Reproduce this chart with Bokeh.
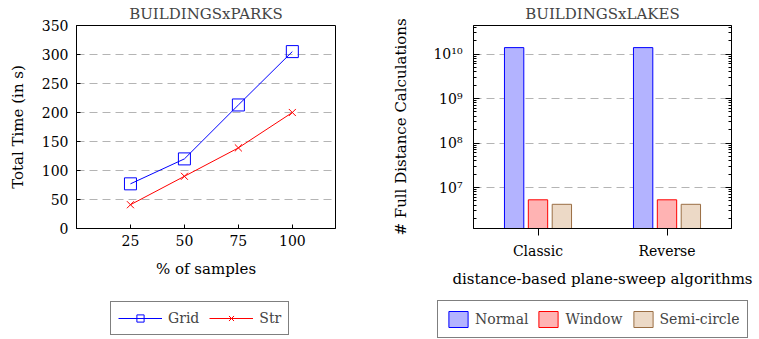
from bokeh.plotting import figure
from bokeh.layouts import row, column
from bokeh.models import (Range1d, FactorRange, FixedTicker, Legend, LegendItem,
                          LogAxis, CustomJSTickFormatter, ColumnDataSource)
from bokeh.transform import dodge
from bokeh.embed import file_html
from bokeh.resources import INLINE

FONT = "DejaVu Serif"

# ---- left chart data: BUILDINGSxPARKS ----
samples = [25, 50, 75, 100]
grid_time = [77, 120, 213, 305]
str_time = [41, 90, 139, 200]
x_tick_values = [25, 50, 75, 100]
y_tick_values = [0, 50, 100, 150, 200, 250, 300, 350]

# ---- right chart data: BUILDINGSxLAKES ----
algorithms = ["Classic", "Reverse"]
normal_calc = [1.4e10, 1.4e10]
window_calc = [5.3e6, 5.3e6]
semicircle_calc = [4.2e6, 4.2e6]
log_major_ticks = [1e7, 1e8, 1e9, 1e10]
LOG_FLOOR = 1.2e6
LOG_CEIL = 4.4e10

BLUE, BLUE_FILL = "#0000ff", "#b3b3ff"
RED, RED_FILL = "#ff0000", "#ffb3b3"
BROWN, BROWN_FILL = "#9a6e44", "#ecd9c6"
GRID_COLOR, GRID_DASH = "#b4b4b4", "8 5"


def style_axes(p):
    for ax in p.axis:
        ax.major_label_text_font = FONT
        ax.major_label_text_font_size = "14px"
        ax.major_label_text_color = "black"
        ax.axis_label_text_font = FONT
        ax.axis_label_text_font_size = "15px"
        ax.axis_label_text_font_style = "normal"
        ax.axis_label_text_color = "black"
        ax.axis_line_color = "black"
        ax.major_tick_line_color = "black"
        ax.minor_tick_line_color = "black"
    p.title.text_font = FONT
    p.title.text_font_size = "15px"
    p.title.text_font_style = "normal"
    p.title.align = "center"
    p.title.standoff = 5
    p.outline_line_color = "black"
    p.outline_line_alpha = 1.0
    p.background_fill_color = "white"
    p.border_fill_color = "white"


def legend_canvas(width):
    # a blank strip below each chart that only holds its legend;
    # its view range (0..1) lies outside all data, so its glyphs are not seen
    q = figure(width=width, height=49, x_range=Range1d(0, 1), y_range=Range1d(0, 1),
               output_backend="svg", toolbar_location=None, min_border=0)
    q.axis.visible = False
    q.grid.visible = False
    q.outline_line_color = None
    q.border_fill_color = "white"
    q.background_fill_color = "white"
    return q


# ================= left figure =================
p1 = figure(width=380, height=290, x_range=Range1d(0, 120), y_range=Range1d(0, 350),
            title="BUILDINGSxPARKS", output_backend="svg", toolbar_location=None,
            min_border_left=76, min_border_right=45, min_border_top=22, min_border_bottom=62)
style_axes(p1)
p1.xaxis.ticker = FixedTicker(ticks=x_tick_values)
p1.yaxis.ticker = FixedTicker(ticks=y_tick_values)
p1.xaxis.axis_label = "% of samples"
p1.yaxis.axis_label = "Total Time (in s)"
for ax in p1.axis:
    ax.major_tick_in = 4
    ax.major_tick_out = 0
    ax.minor_tick_in = 0
    ax.minor_tick_out = 0
p1.xaxis.major_label_standoff = 6
p1.xaxis.axis_label_standoff = 11
p1.yaxis.major_label_standoff = 8
p1.yaxis.axis_label_standoff = 12
p1.xgrid.visible = False
p1.ygrid.grid_line_color = GRID_COLOR
p1.ygrid.grid_line_dash = GRID_DASH


def draw_series(p):
    a = p.line(samples, grid_time, line_color=BLUE, line_width=1)
    b = p.scatter(samples, grid_time, marker="square", size=12,
                  fill_color=None, line_color=BLUE, line_width=1)
    c = p.line(samples, str_time, line_color=RED, line_width=1)
    d = p.scatter(samples, str_time, marker="x", size=10, line_color=RED, line_width=1)
    return a, b, c, d


draw_series(p1)

# legend for left chart (own canvas below the chart)
l1 = legend_canvas(380)
lg_line, lg_mark, ls_line, ls_mark = draw_series(l1)
leg1 = Legend(items=[LegendItem(label="Grid", renderers=[lg_line, lg_mark]),
                     LegendItem(label="Str", renderers=[ls_line, ls_mark])],
              location=(110, 4), orientation="horizontal",
              glyph_width=44, glyph_height=18, spacing=10, padding=7, label_standoff=6,
              border_line_color="black", border_line_width=1,
              label_text_font=FONT, label_text_font_size="14px",
              background_fill_alpha=1.0)
l1.add_layout(leg1)

# ================= right figure =================
p2 = figure(width=379, height=290, x_range=FactorRange(*algorithms),
            y_axis_type="log", y_range=Range1d(LOG_FLOOR, LOG_CEIL),
            title="BUILDINGSxLAKES", output_backend="svg", toolbar_location=None,
            min_border_left=93, min_border_right=28, min_border_top=22, min_border_bottom=62)

log_minor = [m * 10.0 ** e for e in range(6, 11) for m in range(2, 10)]
log_ticker = FixedTicker(ticks=log_major_ticks, minor_ticks=log_minor)
sup_formatter = CustomJSTickFormatter(code=r"""
const sup = {"0":"\u2070","1":"\u00b9","2":"\u00b2","3":"\u00b3","4":"\u2074",
             "5":"\u2075","6":"\u2076","7":"\u2077","8":"\u2078","9":"\u2079","-":"\u207b"};
const e = Math.round(Math.log10(tick));
return "10" + String(e).split("").map(c => sup[c]).join("");
""")
p2.yaxis.ticker = log_ticker
p2.yaxis.formatter = sup_formatter
right_ax = LogAxis(ticker=log_ticker, formatter=sup_formatter)
p2.add_layout(right_ax, "right")
style_axes(p2)
right_ax.major_label_text_font_size = "0px"
right_ax.major_label_text_color = None
right_ax.major_label_standoff = 0

p2.xaxis.axis_label = "distance-based plane-sweep algorithms"
p2.yaxis[0].axis_label = "# Full Distance Calculations"
for ax in p2.yaxis:
    ax.major_tick_in = 6
    ax.major_tick_out = 0
    ax.minor_tick_in = 3
    ax.minor_tick_out = 0
p2.yaxis[0].major_label_standoff = 11
p2.yaxis[0].axis_label_standoff = 20
p2.xaxis.major_tick_in = 0
p2.xaxis.major_tick_out = 7
p2.xaxis.major_label_standoff = 7
p2.xaxis.axis_label_standoff = 8
p2.xgrid.visible = False
p2.ygrid.ticker = log_ticker
p2.ygrid.grid_line_color = GRID_COLOR
p2.ygrid.grid_line_dash = GRID_DASH

src = ColumnDataSource(dict(alg=algorithms, normal=normal_calc,
                            window=window_calc, semi=semicircle_calc))
p2.vbar(x=dodge("alg", -0.185, range=p2.x_range), top="normal", bottom=LOG_FLOOR,
        width=0.15, source=src, fill_color=BLUE_FILL, line_color=BLUE)
p2.vbar(x=dodge("alg", 0.0, range=p2.x_range), top="window", bottom=LOG_FLOOR,
        width=0.15, source=src, fill_color=RED_FILL, line_color=RED)
p2.vbar(x=dodge("alg", 0.185, range=p2.x_range), top="semi", bottom=LOG_FLOOR,
        width=0.15, source=src, fill_color=BROWN_FILL, line_color=BROWN)

# legend for right chart (own canvas below the chart; bars lie outside its view)
l2 = legend_canvas(379)
rn = l2.vbar(x="normal", top="normal", bottom=LOG_FLOOR, width=0.1, source=src,
             fill_color=BLUE_FILL, line_color=BLUE)
rw = l2.vbar(x="window", top="window", bottom=LOG_FLOOR, width=0.1, source=src,
             fill_color=RED_FILL, line_color=RED)
rs = l2.vbar(x="semi", top="semi", bottom=LOG_FLOOR, width=0.1, source=src,
             fill_color=BROWN_FILL, line_color=BROWN)
leg2 = Legend(items=[LegendItem(label="Normal", renderers=[rn]),
                     LegendItem(label="Window", renderers=[rw]),
                     LegendItem(label="Semi-circle", renderers=[rs])],
              location=(57, 1), orientation="horizontal",
              glyph_width=24, glyph_height=20, spacing=8, padding=8, label_standoff=5,
              border_line_color="black", border_line_width=1,
              label_text_font=FONT, label_text_font_size="14px",
              background_fill_alpha=1.0)
l2.add_layout(leg2)

layout = column(row(p1, p2), row(l1, l2), spacing=0)
with open("out.html", "w", encoding="utf-8") as f:
    f.write(file_html(layout, INLINE))
